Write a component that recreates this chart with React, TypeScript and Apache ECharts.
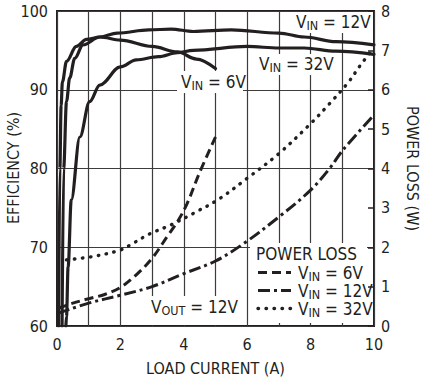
import React, { useEffect, useRef } from "react";
import * as echarts from "echarts";

// ---- data ----
const effVin6V: [number, number][] = [
  [0.05, 60], [0.09, 80], [0.13, 88], [0.17, 91], [0.3, 93.6], [0.61, 95.5], [0.93, 96.4],
  [1.35, 96.7], [2.0, 96.3], [3.0, 95.5], [3.8, 94.8], [4.4, 93.9], [5.0, 92.7],
];
const effVin12V: [number, number][] = [
  [0.16, 60], [0.21, 80], [0.3, 88.5], [0.4, 91.5], [0.56, 94.0], [0.82, 95.7], [1.35, 96.7],
  [1.9, 97.2], [2.9, 97.6], [3.6, 97.7], [4.3, 97.4], [5.5, 97.6], [7.0, 97.2], [7.8, 96.7],
  [8.8, 96.1], [10, 95.7],
];
const effVin32V: [number, number][] = [
  [0.28, 60], [0.3, 61.2], [0.35, 67.5], [0.45, 76], [0.72, 84], [1.03, 88.5], [1.35, 90.6],
  [2.0, 92.9], [2.5, 93.8], [3.2, 94.2], [3.8, 94.7], [4.3, 95.0], [6.0, 95.5], [7.0, 95.3],
  [7.8, 95.3], [8.8, 94.9], [10, 94.5],
];
const lossVin6V: [number, number][] = [
  [0.03, 0.45], [0.5, 0.58], [1.03, 0.7], [1.5, 0.8], [2.0, 0.98], [2.5, 1.3], [3.0, 1.72],
  [3.5, 2.3], [3.8, 2.65], [4.1, 3.1], [4.5, 3.9], [5.0, 4.8],
];
const lossVin12V: [number, number][] = [
  [0.03, 0.32], [1.0, 0.58], [2.0, 0.78], [3.0, 1.0], [4.0, 1.33], [5.0, 1.65], [5.9, 2.1],
  [7.0, 2.77], [8.0, 3.45], [8.6, 4.0], [9.0, 4.45], [9.93, 5.3],
];
const lossVin32V: [number, number][] = [
  [0.3, 1.68], [1.1, 1.76], [2.0, 1.93], [2.4, 2.1], [2.9, 2.33], [3.6, 2.57], [4.3, 2.86],
  [5.1, 3.22], [6.0, 3.75], [7.0, 4.38], [8.0, 5.14], [8.6, 5.65], [9.2, 6.2], [9.55, 6.6],
  [9.93, 7.0],
];
const xRange = [0, 10];
const effRange = [60, 100];
const lossRange = [0, 8];

const INK = "#231f20";
const GRIDC = "#3c3c3c";
const FONT = "'Liberation Sans Narrow', 'DejaVu Sans Condensed', Roboto, sans-serif";
const MAIN_FS = 17;
const SUB_FS = 12.5;

const DASH6 = [9, 5];
const DASH12 = [12, 4, 3, 4];
const DOT32 = [0.5, 7.5];

let measureCtx: CanvasRenderingContext2D | null = null;
function textWidth(s: string, size: number): number {
  if (!measureCtx) measureCtx = document.createElement("canvas").getContext("2d");
  if (!measureCtx) return s.length * size * 0.5;
  measureCtx.font = `${size}px ${FONT}`;
  return measureCtx.measureText(s).width;
}

function vinText(x: number, y: number, sub: string, rest: string): any {
  const wV = textWidth("V", MAIN_FS);
  const wS = textWidth(sub, SUB_FS);
  const base = { fill: INK, fontFamily: FONT, align: "left", verticalAlign: "middle" };
  return {
    type: "group",
    x,
    y,
    z: 20,
    children: [
      { type: "text", x: 0, y: 0, z: 20, style: { ...base, text: "V", fontSize: MAIN_FS } },
      { type: "text", x: wV, y: 3.5, z: 20, style: { ...base, text: sub, fontSize: SUB_FS } },
      { type: "text", x: wV + wS, y: 0, z: 20, style: { ...base, text: rest, fontSize: MAIN_FS } },
    ],
  };
}

function whiteRect(x: number, y: number, w: number, h: number): any {
  return { type: "rect", z: 15, shape: { x, y, width: w, height: h }, style: { fill: "#fff" } };
}

function legendLine(y: number, dash: number[], cap: string, width: number): any {
  return {
    type: "line",
    z: 20,
    shape: { x1: 258, y1: y, x2: 291, y2: y },
    style: { stroke: INK, lineWidth: width, lineDash: dash, lineCap: cap },
  };
}

export default function App() {
  const ref = useRef<HTMLDivElement>(null);
  useEffect(() => {
    if (!ref.current) return;
    const chart = echarts.init(ref.current, undefined, { renderer: "svg" });
    const effLine = (name: string, data: [number, number][]) => ({
      name,
      type: "line",
      yAxisIndex: 0,
      data,
      symbol: "none",
      smooth: 0.35,
      smoothMonotone: "x",
      clip: true,
      lineStyle: { color: INK, width: 3.2, cap: "round" },
      z: 5,
    });
    const lossLine = (name: string, data: [number, number][], dash: number[], cap: string, width: number) => ({
      name,
      type: "line",
      yAxisIndex: 1,
      data,
      symbol: "none",
      smooth: 0.35,
      clip: true,
      lineStyle: { color: INK, width, type: dash, cap },
      z: 4,
    });
    const axisFont = { fontFamily: FONT, fontSize: 16, color: INK };
    chart.setOption({
      animation: false,
      backgroundColor: "#fff",
      grid: {
        left: 57,
        right: 52,
        top: 11,
        bottom: 57,
        show: true,
        borderColor: INK,
        borderWidth: 2,
        backgroundColor: "transparent",
        containLabel: false,
        outerBoundsMode: "none",
      },
      xAxis: {
        type: "value",
        min: xRange[0],
        max: xRange[1],
        interval: 1,
        name: "LOAD CURRENT (A)",
        nameLocation: "middle",
        nameGap: 34,
        nameTextStyle: axisFont,
        axisLine: { show: false },
        axisTick: { show: false },
        axisLabel: {
          margin: 10,
          ...axisFont,
          formatter: (v: number) => (v % 2 === 0 ? String(v) : ""),
        },
        splitLine: { show: true, lineStyle: { color: GRIDC, width: 1.2 } },
      },
      yAxis: [
        {
          type: "value",
          min: effRange[0],
          max: effRange[1],
          interval: 10,
          position: "left",
          axisLine: { show: false },
          axisTick: { show: false },
          axisLabel: { margin: 9, ...axisFont },
          splitLine: { show: true, lineStyle: { color: GRIDC, width: 1.2 } },
        },
        {
          type: "value",
          min: lossRange[0],
          max: lossRange[1],
          interval: 1,
          position: "right",
          name: "POWER LOSS (W)",
          nameLocation: "middle",
          nameRotate: -90,
          nameGap: 30,
          nameTextStyle: axisFont,
          axisLine: { show: false },
          axisTick: { show: true, inside: true, length: 6, lineStyle: { color: INK, width: 1.5 } },
          axisLabel: { margin: 7, ...axisFont },
          splitLine: { show: false },
        },
      ],
      series: [
        effLine("Eff VIN=6V", effVin6V),
        effLine("Eff VIN=12V", effVin12V),
        effLine("Eff VIN=32V", effVin32V),
        lossLine("Loss VIN=6V", lossVin6V, DASH6, "butt", 3),
        lossLine("Loss VIN=12V", lossVin12V, DASH12, "butt", 3),
        lossLine("Loss VIN=32V", lossVin32V, DOT32, "round", 3.4),
      ],
      graphic: [
        {
          type: "text",
          x: 13,
          y: 168,
          rotation: Math.PI / 2,
          z: 20,
          style: {
            text: "EFFICIENCY (%)",
            fontFamily: FONT,
            fontSize: 16,
            fill: INK,
            align: "center",
            verticalAlign: "middle",
          },
        },
        whiteRect(290, 12, 76, 21),
        vinText(296, 22, "IN", " = 12V"),
        whiteRect(254, 54, 78, 21),
        vinText(259, 64, "IN", " = 32V"),
        whiteRect(177, 71, 66, 22),
        vinText(181, 82, "IN", " = 6V"),
        whiteRect(146, 296, 100, 29),
        vinText(151, 307, "OUT", " = 12V"),
        whiteRect(250, 243, 117, 80),
        {
          type: "text",
          x: 256,
          y: 254,
          z: 20,
          style: { text: "POWER LOSS", fontFamily: FONT, fontSize: MAIN_FS, fill: INK, verticalAlign: "middle" },
        },
        legendLine(272.5, DASH6, "butt", 3),
        vinText(298, 272.5, "IN", " = 6V"),
        legendLine(290.5, DASH12, "butt", 3),
        vinText(298, 290.5, "IN", " = 12V"),
        legendLine(308.5, DOT32, "round", 3.4),
        vinText(298, 308.5, "IN", " = 32V"),
      ],
    });
    return () => chart.dispose();
  }, []);
  return <div ref={ref} style={{ position: "fixed", left: 0, top: 0, width: 426, height: 383 }} />;
}
